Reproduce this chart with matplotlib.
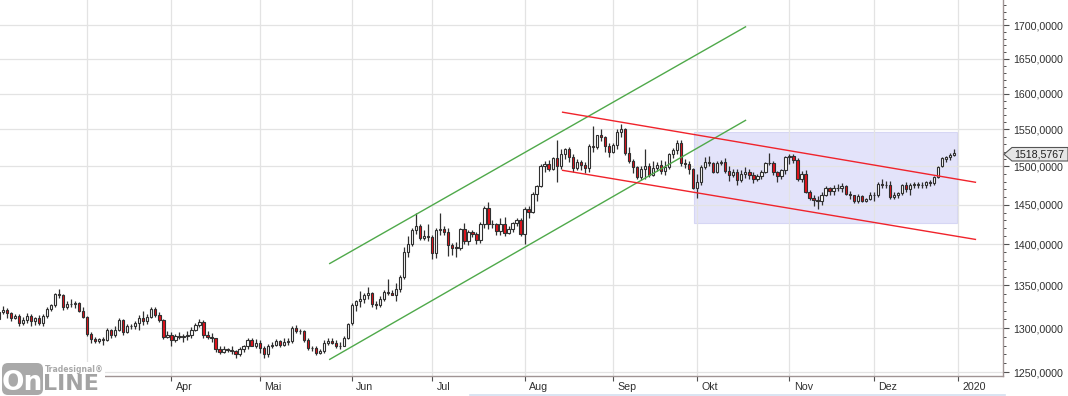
import matplotlib
matplotlib.use('Agg')
import matplotlib.pyplot as plt
import matplotlib.ticker as mticker
import matplotlib.transforms as mtrans
from matplotlib.patches import Rectangle, Polygon, FancyBboxPatch
import numpy as np
import pandas as pd

# daily candles 30.01.2019 - 31.12.2019 (weekdays, 25.12. missing)
# one row per month: Jan, Feb, Mar, Apr, May, Jun, Jul, Aug, Sep, Oct, Nov, Dec
opens = [
    1310, 1319,
    1321, 1317, 1311, 1314, 1306, 1309, 1314, 1308, 1311, 1306, 1314, 1322, 1327, 1340, 1338, 1324, 1328, 1328, 1329, 1320,
    1313, 1293, 1287, 1285, 1287, 1286, 1298, 1292, 1298, 1309, 1295, 1302, 1302, 1306, 1312, 1308, 1313, 1322, 1315, 1309, 1290,
    1292, 1286, 1291, 1290, 1291, 1292, 1298, 1303, 1307, 1292, 1290, 1288, 1276, 1273, 1276, 1275, 1274, 1270, 1276, 1279, 1286, 1280,
    1283, 1277, 1270, 1279, 1281, 1285, 1281, 1284, 1285, 1300, 1296, 1297, 1286, 1277, 1277, 1272, 1274, 1283, 1285, 1283, 1279, 1280, 1288,
    1306, 1327, 1331, 1334, 1339, 1341, 1328, 1327, 1334, 1342, 1341, 1339, 1346, 1360, 1390, 1400, 1418, 1423, 1408, 1411,
    1409, 1389, 1418, 1419, 1416, 1399, 1397, 1395, 1419, 1404, 1415, 1413, 1406, 1426, 1446, 1426, 1425, 1417, 1426, 1414, 1419, 1427, 1431,
    1413, 1445, 1441, 1464, 1474, 1501, 1503, 1497, 1511, 1500, 1516, 1524, 1513, 1498, 1506, 1502, 1498, 1527, 1526, 1542, 1539, 1527,
    1520, 1529, 1546, 1550, 1518, 1507, 1499, 1486, 1497, 1501, 1489, 1498, 1502, 1494, 1499, 1516, 1522, 1531, 1504, 1503, 1497,
    1472, 1480, 1499, 1506, 1504, 1493, 1505, 1506, 1494, 1489, 1493, 1482, 1490, 1492, 1489, 1484, 1487, 1492, 1504, 1505, 1493, 1488, 1495,
    1513, 1514, 1509, 1484, 1490, 1467, 1459, 1456, 1455, 1463, 1471, 1468, 1471, 1472, 1474, 1464, 1462, 1455, 1461, 1455, 1457,
    1463, 1462, 1477, 1475, 1476, 1460, 1462, 1465, 1475, 1470, 1476, 1476, 1476, 1475, 1479, 1478, 1486, 1500, 1510, 1512, 1515,
]
highs = [
    1325, 1326,
    1323, 1319, 1316, 1316, 1313, 1317, 1316, 1313, 1315, 1316, 1324, 1328, 1341, 1346, 1340, 1331, 1334, 1331, 1330, 1324,
    1314, 1295, 1290, 1289, 1290, 1300, 1299, 1302, 1311, 1310, 1305, 1305, 1308, 1315, 1320, 1316, 1324, 1324, 1318, 1310, 1297,
    1295, 1293, 1295, 1293, 1297, 1301, 1306, 1310, 1309, 1296, 1294, 1289, 1280, 1279, 1277, 1279, 1275, 1278, 1281, 1288, 1288, 1287,
    1286, 1279, 1282, 1284, 1287, 1286, 1288, 1288, 1302, 1303, 1299, 1298, 1288, 1280, 1279, 1276, 1286, 1288, 1288, 1286, 1284, 1291, 1306,
    1329, 1333, 1343, 1341, 1348, 1342, 1331, 1337, 1345, 1358, 1344, 1353, 1362, 1397, 1411, 1421, 1439, 1426, 1418, 1425,
    1412, 1421, 1439, 1423, 1420, 1402, 1403, 1421, 1427, 1418, 1418, 1416, 1428, 1448, 1453, 1430, 1427, 1433, 1434, 1423, 1428, 1433, 1433,
    1447, 1448, 1466, 1475, 1503, 1507, 1509, 1513, 1535, 1524, 1525, 1526, 1516, 1510, 1509, 1506, 1530, 1555, 1543, 1551, 1541, 1531,
    1532, 1550, 1557, 1552, 1526, 1510, 1500, 1501, 1524, 1505, 1507, 1506, 1508, 1507, 1518, 1525, 1535, 1535, 1510, 1507, 1498,
    1490, 1502, 1512, 1514, 1506, 1507, 1509, 1511, 1500, 1496, 1496, 1495, 1499, 1496, 1493, 1490, 1495, 1506, 1518, 1507, 1494, 1497, 1514,
    1517, 1516, 1511, 1494, 1495, 1469, 1463, 1461, 1466, 1474, 1473, 1475, 1477, 1478, 1476, 1468, 1463, 1464, 1463, 1459, 1466,
    1466, 1479, 1483, 1481, 1481, 1466, 1467, 1477, 1480, 1478, 1479, 1480, 1479, 1481, 1482, 1488, 1500, 1513, 1514, 1518, 1523,
]
lows = [
    1308, 1316,
    1311, 1308, 1310, 1302, 1303, 1306, 1302, 1303, 1303, 1302, 1312, 1320, 1325, 1335, 1321, 1322, 1325, 1323, 1318, 1311,
    1291, 1283, 1283, 1283, 1281, 1285, 1288, 1290, 1296, 1292, 1294, 1299, 1299, 1298, 1303, 1305, 1311, 1313, 1307, 1287, 1288,
    1280, 1284, 1287, 1284, 1286, 1289, 1296, 1301, 1289, 1287, 1284, 1273, 1270, 1271, 1273, 1270, 1266, 1268, 1273, 1276, 1279, 1277,
    1272, 1266, 1267, 1277, 1279, 1278, 1279, 1281, 1283, 1294, 1293, 1284, 1275, 1274, 1269, 1270, 1272, 1281, 1282, 1277, 1276, 1279, 1287,
    1304, 1320, 1325, 1329, 1334, 1325, 1322, 1325, 1331, 1338, 1338, 1332, 1342, 1358, 1385, 1398, 1413, 1405, 1405, 1404,
    1382, 1383, 1412, 1412, 1386, 1387, 1385, 1393, 1401, 1399, 1409, 1400, 1402, 1420, 1419, 1420, 1412, 1412, 1411, 1413, 1416, 1423, 1410,
    1400, 1433, 1440, 1455, 1473, 1492, 1494, 1495, 1480, 1496, 1510, 1506, 1492, 1495, 1495, 1491, 1493, 1519, 1524, 1534, 1520, 1513,
    1518, 1524, 1540, 1515, 1504, 1491, 1483, 1482, 1484, 1486, 1488, 1494, 1490, 1489, 1496, 1511, 1516, 1500, 1498, 1490, 1470,
    1459, 1476, 1496, 1501, 1491, 1491, 1502, 1491, 1481, 1486, 1476, 1480, 1485, 1484, 1478, 1481, 1483, 1491, 1502, 1489, 1480, 1484, 1490,
    1503, 1505, 1481, 1479, 1465, 1456, 1449, 1445, 1450, 1461, 1462, 1463, 1468, 1467, 1462, 1458, 1452, 1452, 1453, 1454, 1456,
    1455, 1460, 1472, 1472, 1458, 1458, 1459, 1462, 1466, 1462, 1472, 1472, 1472, 1472, 1474, 1476, 1485, 1499, 1506, 1508, 1514,
]
closes = [
    1319, 1321,
    1317, 1311, 1314, 1306, 1309, 1314, 1308, 1311, 1306, 1314, 1322, 1327, 1340, 1338, 1324, 1328, 1328, 1329, 1320, 1313,
    1293, 1287, 1285, 1287, 1286, 1298, 1292, 1298, 1309, 1295, 1302, 1302, 1306, 1312, 1308, 1313, 1322, 1315, 1309, 1290, 1292,
    1286, 1291, 1290, 1291, 1292, 1298, 1303, 1307, 1292, 1290, 1288, 1276, 1273, 1276, 1275, 1274, 1270, 1276, 1279, 1286, 1280, 1283,
    1277, 1270, 1279, 1281, 1285, 1281, 1284, 1285, 1300, 1296, 1297, 1286, 1277, 1277, 1272, 1274, 1283, 1285, 1283, 1279, 1280, 1288, 1305,
    1327, 1331, 1334, 1339, 1341, 1328, 1327, 1334, 1342, 1341, 1339, 1346, 1360, 1390, 1400, 1418, 1423, 1408, 1411, 1409,
    1389, 1418, 1419, 1416, 1399, 1396, 1395, 1419, 1404, 1415, 1413, 1406, 1426, 1446, 1426, 1425, 1417, 1426, 1414, 1419, 1427, 1431, 1413,
    1445, 1441, 1464, 1474, 1501, 1503, 1497, 1511, 1500, 1516, 1524, 1513, 1498, 1506, 1502, 1498, 1527, 1526, 1542, 1539, 1527, 1520,
    1529, 1546, 1550, 1518, 1507, 1499, 1486, 1497, 1501, 1489, 1498, 1502, 1494, 1499, 1516, 1522, 1531, 1504, 1503, 1497, 1472,
    1480, 1499, 1506, 1504, 1493, 1505, 1506, 1494, 1489, 1493, 1482, 1490, 1492, 1489, 1484, 1487, 1492, 1504, 1505, 1493, 1488, 1495, 1513,
    1514, 1509, 1484, 1490, 1467, 1459, 1456, 1455, 1463, 1471, 1468, 1471, 1472, 1474, 1464, 1462, 1455, 1461, 1455, 1457, 1463,
    1462, 1477, 1475, 1476, 1460, 1462, 1465, 1475, 1470, 1476, 1476, 1476, 1475, 1479, 1478, 1486, 1499, 1511, 1512, 1515, 1518.5767,
]

dates = pd.bdate_range('2019-01-30', '2019-12-31')
dates = dates[dates != pd.Timestamp('2019-12-25')]

# March label sits under the logo, only its tick/grid line shows
month_labels = ['', 'Apr', 'Mai', 'Jun', 'Jul', 'Aug', 'Sep', 'Okt', 'Nov', 'Dez', '2020']
month_starts = ['2019-03-01', '2019-04-01', '2019-05-01', '2019-06-01', '2019-07-01', '2019-08-01',
                '2019-09-01', '2019-10-01', '2019-11-01', '2019-12-01', '2020-01-01']

# drawn trend channels (bar index, price)
green_upper = ([82.3, 186.2], [1376, 1698])
green_lower = ([82.3, 186.2], [1264, 1563])
red_upper = ([140.3, 243.5], [1574, 1479])
red_lower = ([140.3, 243.5], [1495, 1406])
box_x = (173.2, 238.8)
box_price = (1427, 1547)

o = np.array(opens, float)
h = np.array(highs, float)
l = np.array(lows, float)
c = np.array(closes, float)
x = np.arange(len(c))
tick_pos = np.searchsorted(dates.values, pd.to_datetime(month_starts).values)

W, H = 1068, 396
fig = plt.figure(figsize=(W / 100, H / 100), dpi=100)
fig.patch.set_facecolor('white')
ax = fig.add_axes([0, 20 / H, 1003 / W, 376 / H])

ax.set_yscale('log')
ax.set_ylim(1245.9, 1738.3)
ax.set_xlim(0.3, 250.2)

ax.add_patch(Rectangle((box_x[0], box_price[0]), box_x[1] - box_x[0], box_price[1] - box_price[0],
                       facecolor='#e3e3fa', edgecolor='#d6d6f4', lw=0.8, zorder=0))

up = c >= o
col = np.where(up, 'white', '#e3121b')
ax.vlines(x, l, h, color='#303030', lw=0.9, zorder=2)
ax.bar(x, np.maximum(np.abs(c - o), 0.4), bottom=np.minimum(o, c), width=0.58,
       color=col, edgecolor='#303030', linewidth=0.8, zorder=3)

for xs, ys, cc in [(green_upper[0], green_upper[1], '#4fa94a'), (green_lower[0], green_lower[1], '#4fa94a'),
                   (red_upper[0], red_upper[1], '#f0232b'), (red_lower[0], red_lower[1], '#f0232b')]:
    ax.plot(xs, ys, color=cc, lw=1.0, zorder=4, solid_capstyle='butt')

# axes styling
for s in ['left', 'top']:
    ax.spines[s].set_visible(False)
for s in ['right', 'bottom']:
    ax.spines[s].set_color('#a09494')
    ax.spines[s].set_linewidth(1.0)

ax.yaxis.tick_right()
ax.yaxis.set_major_locator(mticker.FixedLocator(np.arange(1250, 1701, 50)))
ax.yaxis.set_minor_locator(mticker.FixedLocator(np.arange(1250, 1731, 10)))
ax.yaxis.set_major_formatter(mticker.FuncFormatter(lambda v, p: f'{v:.4f}'.replace('.', ',')))
ax.yaxis.set_minor_formatter(mticker.NullFormatter())
ax.tick_params(axis='y', which='major', length=4, width=0.8, color='#505050', pad=3.5,
               labelsize=7.7, labelcolor='#303030')
ax.tick_params(axis='y', which='minor', length=2.2, width=0.7, color='#505050')

ax.set_xticks(tick_pos)
ax.set_xticklabels(month_labels)
ax.xaxis.set_minor_locator(mticker.NullLocator())
ax.tick_params(axis='x', length=3.5, width=0.8, color='#505050', pad=1, labelsize=7.7, labelcolor='#303030')
off = mtrans.ScaledTranslation(3 / 72, 0, fig.dpi_scale_trans)
for lbl in ax.get_xticklabels():
    lbl.set_ha('left')
    lbl.set_transform(lbl.get_transform() + off)
for lbl in ax.get_xticklabels() + ax.get_yticklabels():
    lbl.set_fontfamily('Liberation Sans')

ax.grid(True, which='major', color='#e3e3e3', lw=0.9)
ax.set_axisbelow(True)

# last price marker
py = 154.3
fig.add_artist(Polygon([(1004, H - py), (1012, H - 147.5), (1068, H - 147.5), (1068, H - 161), (1012, H - 161)],
                       closed=True, facecolor='#e6e6e6', edgecolor='#555555', lw=0.8, transform=None))
fig.text(1014 / W, 1 - py / H, f'{closes[-1]:.4f}'.replace('.', ','), fontsize=7.7, color='#202020',
         family='Liberation Sans', va='center', ha='left')

# scroll indicator at bottom
fig.add_artist(plt.Line2D([470 / W, 1005 / W], [1.5 / H, 1.5 / H], color='#d3dff0', lw=1.2))

# logo
lax = fig.add_axes([0, 0, 105 / W, 34 / H])
lax.set_xlim(0, 105)
lax.set_ylim(0, 34)
lax.axis('off')
lax.add_patch(Rectangle((0, 0), 105, 34, facecolor='white', edgecolor='none', zorder=0))
lax.add_patch(FancyBboxPatch((2, 1), 41, 32, boxstyle='round,pad=0,rounding_size=6',
                             facecolor='#a9a9a9', edgecolor='none', zorder=1))
lax.text(22.5, 12.5, 'On', color='white', fontsize=19, fontweight='bold', ha='center', va='center',
         family='DejaVu Sans', zorder=2)
lax.text(43, 11.5, 'LINE', color='#a3a3a3', fontsize=16, fontweight='bold', ha='left', va='center',
         family='DejaVu Sans', zorder=2)
lax.text(45, 26.5, 'Tradesignal®', color='#a9a9a9', fontsize=5.6, fontweight='bold', ha='left', va='center',
         family='DejaVu Sans', zorder=2)

fig.savefig('out.png', dpi=100)
